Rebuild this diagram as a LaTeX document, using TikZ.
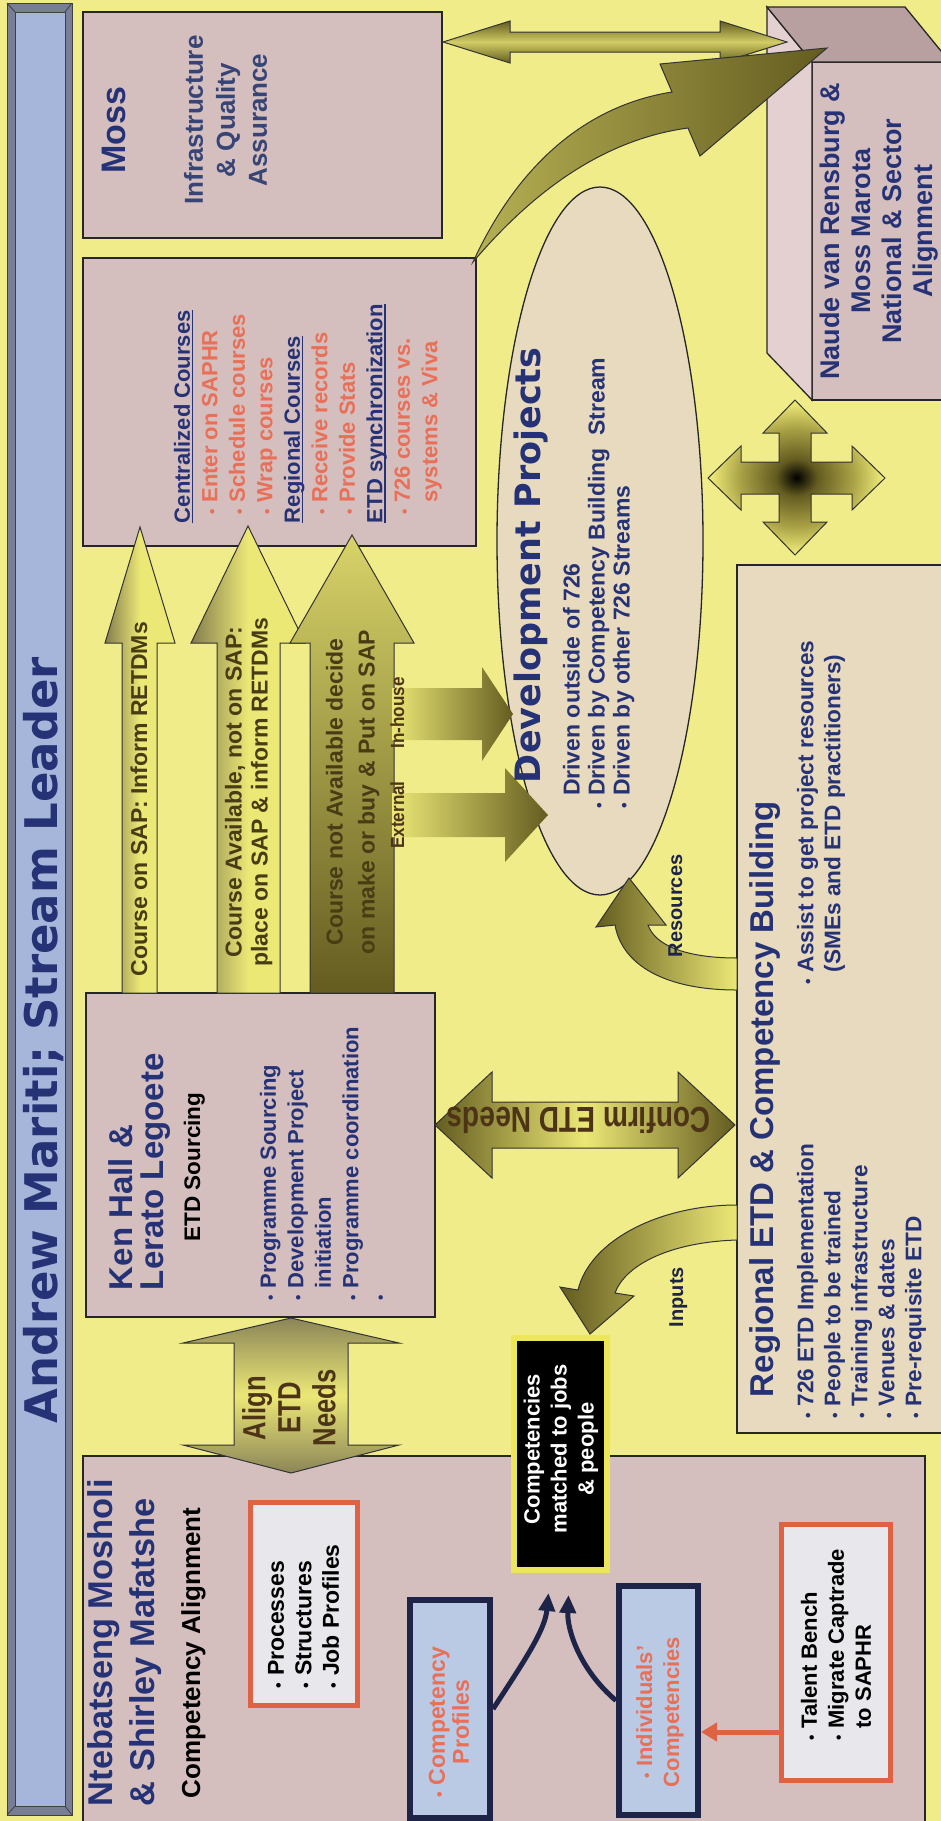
\documentclass[tikz,border=0pt]{standalone}
\usepackage{fontspec}
\setmainfont{Liberation Sans}
\newfontfamily\widefont{DejaVu Sans}
\usepackage{graphicx}
\usetikzlibrary{arrows.meta,shapes.geometric,calc}

\definecolor{bgyel}{RGB}{240,236,138}
\definecolor{pinkc}{RGB}{212,190,190}
\definecolor{beigec}{RGB}{232,218,190}
\definecolor{navyt}{RGB}{38,50,118}
\definecolor{slatet}{RGB}{55,68,118}
\definecolor{oranget}{RGB}{232,112,88}
\definecolor{orangeb}{RGB}{222,98,68}
\definecolor{navyb}{RGB}{30,36,72}
\definecolor{lblue}{RGB}{186,202,228}
\definecolor{whitec}{RGB}{232,232,236}
\definecolor{titlefill}{RGB}{166,182,218}
\definecolor{titleedge}{RGB}{120,126,150}
\definecolor{arrY}{RGB}{236,232,118}
\definecolor{arrD}{RGB}{100,92,32}
\definecolor{arrM}{RGB}{170,162,70}
\definecolor{brownt}{RGB}{78,52,22}
\definecolor{olivet}{RGB}{72,60,20}
\definecolor{boxtop}{RGB}{184,160,160}
\definecolor{boxside}{RGB}{228,208,208}
\definecolor{matchedge}{RGB}{236,230,90}

\newcommand{\bul}{\scalebox{0.7}{\textbullet}\ }
\newcommand{\nob}{\hphantom{\bul}}
\newcommand{\hd}[1]{\setbox0=\hbox{#1}\rlap{\rule[-3.5pt]{\wd0}{1.6pt}}\box0}

\pgfdeclareradialshading{crossglow}{\pgfpoint{0bp}{0bp}}{color(0bp)=(black); color(6bp)=(arrD); color(16bp)=(arrM); color(24bp)=(arrY); color(50bp)=(arrY)}

\begin{document}
\begin{tikzpicture}[x=1pt,y=-1pt,
  pbox/.style={draw=black!85, line width=1.3pt, fill=pinkc, inner sep=0pt, outer sep=0pt, anchor=north west},
  lbl/.style={rotate=90, inner sep=0pt, outer sep=0pt},
  fs/.style 2 args={font={\fontsize{#1}{#2}\selectfont\bfseries}},
  blockarrow/.style={draw=black!80, line width=1pt},
]
\useasboundingbox (0,0) rectangle (941,1821);
\fill[bgyel] (0,0) rectangle (941,1821);

% title bar
\fill[titleedge] (7,3) rectangle (72,1815);
\fill[titlefill] (15,12) rectangle (65,1806);
\draw[black!75, line width=1pt] (7,3) rectangle (72,1815) (15,12) rectangle (65,1806);
\draw[black!75, line width=0.8pt] (7,3) -- (15,12) (72,3) -- (65,12) (7,1815) -- (15,1806) (72,1815) -- (65,1806);
\node[lbl, anchor=base, text=navyt, font={\widefont\bfseries\fontsize{45}{50}\selectfont}] (title) at (57,1040) {Andrew Mariti; Stream Leader};

% main boxes
\node[pbox, minimum width=359, minimum height=226] (moss) at (83,12) {};
\node[pbox, minimum width=393, minimum height=288] (central) at (83,258) {};
\node[pbox, minimum width=349, minimum height=324] (ken) at (86,993) {};
\node[pbox, minimum width=842, minimum height=420] (nteb) at (83,1456) {};
\node[pbox, fill=beigec, minimum width=230, minimum height=868] (regional) at (737,565) {};

% national alignment block
\node[pbox, minimum width=140, minimum height=338] (naude) at (812,62) {};
\filldraw[fill=boxside, draw=black!85, line width=1.3pt] (767,7) -- (812,62) -- (812,400) -- (767,353) -- cycle;
\filldraw[fill=boxtop, draw=black!85, line width=1.3pt] (767,7) -- (905,7) -- (950,62) -- (812,62) -- cycle;

% development projects
\node[ellipse, draw=black!85, line width=1.3pt, fill=beigec, minimum width=708, minimum height=206, rotate=90, inner sep=0pt] (dev) at (600,541) {};

% block arrows from sourcing to course administration
\shade[blockarrow, left color=arrD!80, right color=arrY, middle color=arrY] (122,993) -- (122,643) -- (105,643) -- (140,527) -- (175,643) -- (157,643) -- (157,993) -- cycle;
\shade[blockarrow, left color=arrD!80, right color=arrY, middle color=arrY] (217,993) -- (217,643) -- (191,643) -- (248,526) -- (305,643) -- (280,643) -- (280,993) -- cycle;
\shade[blockarrow, top color=arrY!85!arrD, bottom color=arrD] (310,993) -- (310,643) -- (290,643) -- (352,535) -- (414,643) -- (394,643) -- (394,993) -- cycle;

% in-house / external
\shade[left color=arrY, right color=arrD] (392,688) -- (482,688) -- (482,667) -- (513,714) -- (482,761) -- (482,740) -- (392,740) -- cycle;
\shade[left color=arrY, right color=arrD] (392,793) -- (505,793) -- (505,768) -- (548,815) -- (505,862) -- (505,837) -- (392,837) -- cycle;

% confirm ETD needs
\shade[blockarrow, left color=arrD, right color=arrD, middle color=arrY] (435,1125) -- (492,1072) -- (492,1102) -- (678,1102) -- (678,1072) -- (735,1125) -- (678,1178) -- (678,1148) -- (492,1148) -- (492,1178) -- cycle;

% align ETD needs
\shade[blockarrow, top color=arrD!75, bottom color=arrD!75, middle color=arrY] (291,1318) -- (399,1343) -- (348,1343) -- (348,1445) -- (399,1445) -- (291,1473) -- (183,1445) -- (234,1445) -- (234,1343) -- (183,1343) -- cycle;

% moss <-> national
\shade[blockarrow, top color=arrD, bottom color=arrD, middle color=arrY!80!arrD] (443,42) -- (510,21) -- (510,32) -- (720,32) -- (720,21) -- (787,42) -- (720,63) -- (720,52) -- (510,52) -- (510,63) -- cycle;

% four-way arrow
\shade[blockarrow, shading=crossglow] (795,400) -- (827,433) -- (811,433) -- (811,462) -- (852,462) -- (852,446) -- (885,478) -- (852,510) -- (852,494) -- (811,494) -- (811,522) -- (827,522) -- (795,555) -- (763,522) -- (779,522) -- (779,494) -- (741,494) -- (741,510) -- (708,478) -- (741,446) -- (741,462) -- (779,462) -- (779,433) -- (763,433) -- cycle;

% sweeping arrow to national alignment
\shade[blockarrow, left color=arrY!60!arrD, right color=arrD] (473,262) .. controls (530,195) and (600,140) .. (688,128) -- (700,156) -- (827,48) -- (660,64) -- (672,92) .. controls (590,105) and (520,160) .. (473,262) -- cycle;

% resources / inputs curved arrows
\shade[blockarrow, left color=arrD, right color=arrY] (737,958) .. controls (685,958) and (655,945) .. (648,925) -- (666,925) -- (629,878) -- (596,927) -- (615,925) .. controls (622,965) and (665,990) .. (737,990) -- cycle;
\shade[blockarrow, left color=arrD, right color=arrY] (737,1240) .. controls (670,1242) and (625,1265) .. (615,1293) -- (634,1296) -- (590,1334) -- (560,1287) -- (578,1290) .. controls (590,1240) and (660,1205) .. (737,1205) -- cycle;

% inner boxes
\node[draw=orangeb, line width=5pt, fill=whitec, minimum width=107, minimum height=203, anchor=north west, inner sep=0pt] (proc) at (248,1500) {};
\node[draw=navyb, line width=6pt, fill=lblue, minimum width=80, minimum height=218, anchor=north west, inner sep=0pt] (cprof) at (407,1597) {};
\node[draw=navyb, line width=6pt, fill=lblue, minimum width=79, minimum height=229, anchor=north west, inner sep=0pt] (indiv) at (616,1583) {};
\node[draw=orangeb, line width=5pt, fill=whitec, minimum width=109, minimum height=256, anchor=north west, inner sep=0pt] (talent) at (779,1522) {};
\node[fill=black, draw=matchedge, line width=6pt, minimum width=93, minimum height=232, anchor=north west, inner sep=0pt] (match) at (511,1335) {};

% connectors
\coordinate (tb) at (0,1732);
\draw[draw=orangeb, line width=5pt, -{Triangle[length=16pt,width=18pt]}] (talent.west |- tb) -- (indiv.east |- tb);
\draw[navyb, line width=5pt, -{Triangle[length=18pt,width=16pt]}] (cprof.east) .. controls (525,1660) and (545,1630) .. ($(match.south)+(-12,20)$);
\draw[navyb, line width=5pt, -{Triangle[length=18pt,width=16pt]}] (indiv.west) .. controls (580,1670) and (567,1630) .. ($(match.south)+(8,22)$);

% texts: competency alignment
\node[lbl, anchor=north west, align=left, text=navyt, fs={34.4}{42}] (ntebt) at (88,1806) {Ntebatseng Mosholi\\\& Shirley Mafatshe};
\node[lbl, anchor=base west, fs={26}{30}] (ntebs) at (200,1798) {Competency Alignment};
\node[lbl, anchor=north west, align=left, fs={23}{27.5}] (proct) at (268,1688) {\bul Processes\\\bul Structures\\\bul Job Profiles};
\node[lbl, align=center, text=oranget, fs={23}{24}] (cproft) at (449,1722) {\bul Competency\\Profiles};
\node[lbl, align=center, text=oranget, fs={22}{27}] (indivt) at (660,1712) {\bul Individuals'\\Competencies};
\node[lbl, anchor=north west, align=left, fs={22}{27}] (talentt) at (801,1740) {\bul Talent Bench\\\bul Migrate Captrade\\\nob to SAPHR};
\node[lbl, align=center, text=white, fs={22}{27}] (matcht) at (561,1449) {Competencies\\matched to jobs\\\& people};

% texts: sourcing
\node[lbl, anchor=north west, align=left, text=navyt, fs={33}{31}] (kent) at (109,1290) {Ken Hall \&\\Lerato Legoete};
\node[lbl, anchor=base, fs={22.5}{26}] (kens) at (200,1167) {ETD Sourcing};
\node[lbl, anchor=north west, align=left, text=navyt, fs={22}{27.5}] (kenb) at (260,1300) {\bul Programme Sourcing\\\bul Development Project\\\nob initiation\\\bul Programme coordination\\\bul};

% texts: moss
\node[lbl, anchor=base, text=navyt, fs={34}{40}] (mosst) at (125,130) {Moss};
\node[lbl, anchor=north, align=center, text=slatet, fs={26}{32}] (mossr) at (184,120) {Infrastructure\\\& Quality\\Assurance};

% texts: course administration
\node[lbl, anchor=north west, align=left, fs={22}{27.5}] (centt) at (174,523) {%
\textcolor{navyt}{\hd{Centralized Courses}}\\
\textcolor{oranget}{\hspace*{9pt}\bul Enter on SAPHR}\\
\textcolor{oranget}{\hspace*{9pt}\bul Schedule courses}\\
\textcolor{oranget}{\hspace*{9pt}\bul Wrap courses}\\
\textcolor{navyt}{\hd{Regional Courses}}\\
\textcolor{oranget}{\hspace*{9pt}\bul Receive records}\\
\textcolor{oranget}{\hspace*{9pt}\bul Provide Stats}\\
\textcolor{navyt}{\hd{ETD synchronization}}\\
\textcolor{oranget}{\hspace*{9pt}\bul 726 courses vs.}\\
\textcolor{oranget}{\hspace*{9pt}\nob systems \& Viva}};

% texts: arrows
\node[lbl, anchor=base west, text=olivet, fs={23}{27}] (a1t) at (147,976) {Course on SAP: Inform RETDMs};
\node[lbl, anchor=north, align=center, text=olivet, fs={23}{26}] (a2t) at (225,792) {Course Available, not on SAP:\\place on SAP \& inform RETDMs};
\node[lbl, anchor=north, align=center, text=olivet, fs={23}{32}] (a3t) at (326,792) {Course not Available decide\\on make or buy \& Put on SAP};
\node[lbl, anchor=base, text=brownt, fs={19}{22}] (inht) at (404,713) {\scalebox{0.9}[1]{In-house}};
\node[lbl, anchor=base, text=brownt, fs={19}{22}] (extt) at (404,815) {\scalebox{0.9}[1]{External}};
\node[rotate=180, inner sep=0pt, text=brownt, fs={36}{40}] (conft) at (579,1120) {\scalebox{0.78}[1]{Confirm ETD Needs}};
\node[lbl, align=center, text=brownt, fs={32}{35}] (alignt) at (289,1408) {\scalebox{0.8}[1]{Align}\\\scalebox{0.8}[1]{ETD}\\\scalebox{0.8}[1]{Needs}};
\node[lbl, anchor=base west, text=navyb, fs={20}{22}] (rest) at (682,957) {Resources};
\node[lbl, anchor=base west, text=navyb, fs={20}{22}] (inpt) at (683,1327) {Inputs};

% texts: development projects
\node[lbl, anchor=base west, text=navyt, font={\widefont\bfseries\fontsize{35}{40}\selectfont}] (devh) at (540,783) {Development Projects};
\node[lbl, anchor=north west, align=left, text=navyt, fs={23}{25}] (devt) at (563,808) {\nob Driven outside of 726\\\bul Driven by Competency Building\ \ Stream\\\bul Driven by other 726 Streams};

% texts: regional
\node[lbl, anchor=base west, text=navyt, fs={33}{38}] (regh) at (773,1397) {Regional ETD \& Competency Building};
\node[lbl, anchor=north west, align=left, text=navyt, fs={22.6}{27}] (regl) at (797,1418) {\bul 726 ETD Implementation\\\bul People to be trained\\\bul Training infrastructure\\\bul Venues \& dates\\\bul Pre-requisite ETD};
\node[lbl, anchor=north west, align=left, text=navyt, fs={22.6}{27}] (regr) at (797,984) {\bul Assist to get project resources\\\nob(SMEs and ETD practitioners)};

% texts: national alignment
\node[lbl, anchor=north, align=center, text=navyt, fs={27}{31}] (naudet) at (820,231) {Naude van Rensburg \&\\Moss Marota\\National \& Sector\\Alignment};
\end{tikzpicture}
\end{document}
